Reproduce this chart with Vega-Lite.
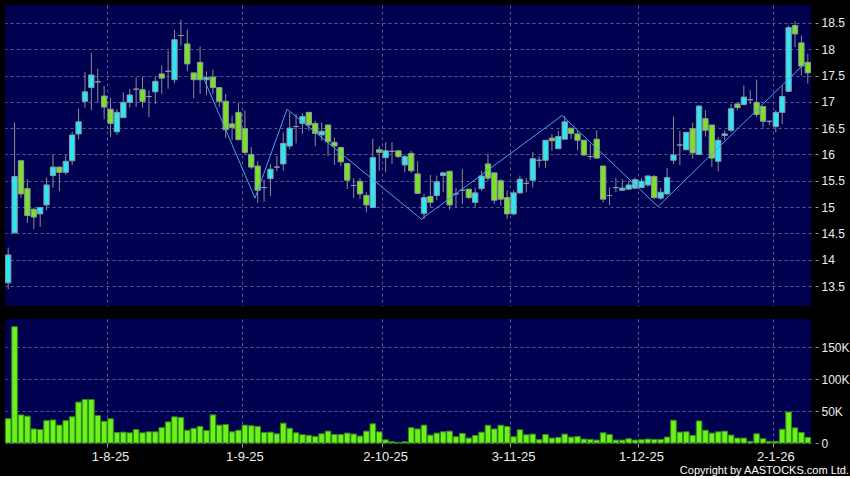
{
"$schema": "https://vega.github.io/schema/vega-lite/v6.json",
"background": "#000000",
"padding": {"left": 4, "top": 5, "right": 0, "bottom": 0},
"config": {
  "view": {"fill": "#000050", "stroke": null},
  "axis": {"labelFont": "Liberation Sans", "labelColor": "#eeeeee", "tickColor": "#9a9a9a", "gridColor": "#5a5a8c", "gridDash": [3, 3], "gridWidth": 1, "domain": false, "title": null, "labelOverlap": false}
},
"title": {"text": "Copyright by AASTOCKS.com Ltd.", "orient": "bottom", "anchor": "end", "fontSize": 11, "fontWeight": "normal", "color": "#ffffff", "font": "Liberation Sans", "offset": 2},
"datasets": {"p": [
{"d":"10-7-25","o":13.56,"h":14.23,"l":13.44,"c":14.09,"v":38000},
{"d":"11-7-25","o":14.51,"h":16.61,"l":14.50,"c":15.58,"v":182000},
{"d":"14-7-25","o":15.88,"h":15.90,"l":15.18,"c":15.25,"v":44000},
{"d":"15-7-25","o":15.35,"h":15.53,"l":14.70,"c":14.84,"v":42000},
{"d":"16-7-25","o":14.96,"h":14.97,"l":14.58,"c":14.81,"v":22000},
{"d":"17-7-25","o":14.87,"h":15.00,"l":14.62,"c":14.99,"v":21000},
{"d":"18-7-25","o":15.04,"h":15.56,"l":14.94,"c":15.42,"v":35000},
{"d":"21-7-25","o":15.60,"h":16.00,"l":15.37,"c":15.76,"v":36000},
{"d":"22-7-25","o":15.76,"h":15.77,"l":15.30,"c":15.66,"v":28000},
{"d":"23-7-25","o":15.66,"h":16.00,"l":15.61,"c":15.87,"v":35000},
{"d":"24-7-25","o":15.88,"h":16.43,"l":15.80,"c":16.37,"v":41000},
{"d":"25-7-25","o":16.39,"h":16.87,"l":16.29,"c":16.62,"v":64000},
{"d":"28-7-25","o":17.01,"h":17.57,"l":16.89,"c":17.19,"v":68000},
{"d":"29-7-25","o":17.27,"h":17.93,"l":16.84,"c":17.51,"v":68000},
{"d":"30-7-25","o":17.38,"h":17.63,"l":16.99,"c":17.38,"v":43000},
{"d":"31-7-25","o":17.11,"h":17.30,"l":16.67,"c":16.90,"v":34000},
{"d":"1-8-25","o":16.86,"h":17.08,"l":16.33,"c":16.59,"v":38000},
{"d":"4-8-25","o":16.43,"h":16.86,"l":16.37,"c":16.80,"v":16500},
{"d":"5-8-25","o":16.70,"h":17.18,"l":16.70,"c":16.99,"v":17000},
{"d":"6-8-25","o":16.99,"h":17.24,"l":16.89,"c":17.13,"v":16000},
{"d":"7-8-25","o":17.24,"h":17.46,"l":16.90,"c":17.24,"v":21000},
{"d":"8-8-25","o":17.23,"h":17.47,"l":16.89,"c":17.01,"v":16000},
{"d":"11-8-25","o":17.10,"h":17.22,"l":16.71,"c":17.10,"v":17500},
{"d":"12-8-25","o":17.19,"h":17.47,"l":16.96,"c":17.39,"v":17500},
{"d":"13-8-25","o":17.53,"h":17.69,"l":17.15,"c":17.45,"v":24000},
{"d":"14-8-25","o":17.58,"h":17.97,"l":17.25,"c":17.58,"v":33000},
{"d":"15-8-25","o":17.42,"h":18.37,"l":17.35,"c":18.18,"v":41000},
{"d":"18-8-25","o":18.26,"h":18.56,"l":18.07,"c":18.26,"v":40000},
{"d":"19-8-25","o":18.10,"h":18.37,"l":17.58,"c":17.72,"v":20000},
{"d":"20-8-25","o":17.55,"h":17.55,"l":17.07,"c":17.42,"v":23000},
{"d":"21-8-25","o":17.75,"h":18.05,"l":17.15,"c":17.42,"v":26000},
{"d":"22-8-25","o":17.42,"h":17.58,"l":17.13,"c":17.46,"v":19600,"z":17.44},
{"d":"25-8-25","o":17.47,"h":17.61,"l":17.15,"c":17.27,"v":44000},
{"d":"26-8-25","o":17.27,"h":17.27,"l":16.90,"c":17.01,"v":28000},
{"d":"27-8-25","o":17.01,"h":17.15,"l":16.31,"c":16.47,"v":29000},
{"d":"28-8-25","o":16.58,"h":16.74,"l":16.27,"c":16.51,"v":17500},
{"d":"29-8-25","o":16.80,"h":16.98,"l":16.27,"c":16.28,"v":20000},
{"d":"1-9-25","o":16.49,"h":16.84,"l":16.00,"c":16.04,"v":28000},
{"d":"2-9-25","o":16.00,"h":16.14,"l":15.72,"c":15.76,"v":27000},
{"d":"3-9-25","o":15.78,"h":15.87,"l":15.08,"c":15.32,"v":26000,"z":15.17},
{"d":"4-9-25","o":15.37,"h":15.52,"l":15.10,"c":15.37,"v":16500},
{"d":"5-9-25","o":15.54,"h":15.82,"l":15.21,"c":15.72,"v":17000},
{"d":"8-9-25","o":15.76,"h":15.97,"l":15.68,"c":15.76,"v":14400},
{"d":"9-9-25","o":15.82,"h":16.42,"l":15.69,"c":16.21,"v":31000},
{"d":"10-9-25","o":16.16,"h":16.80,"l":16.10,"c":16.50,"v":23000,"z":16.86},
{"d":"11-9-25","o":16.53,"h":16.77,"l":16.21,"c":16.53,"v":16000},
{"d":"12-9-25","o":16.59,"h":16.78,"l":16.39,"c":16.72,"v":13000},
{"d":"15-9-25","o":16.80,"h":16.80,"l":16.45,"c":16.56,"v":12000},
{"d":"16-9-25","o":16.59,"h":16.64,"l":16.16,"c":16.40,"v":10300},
{"d":"17-9-25","o":16.37,"h":16.61,"l":16.26,"c":16.44,"v":14400},
{"d":"18-9-25","o":16.56,"h":16.56,"l":15.97,"c":16.24,"v":18600},
{"d":"19-9-25","o":16.23,"h":16.32,"l":15.80,"c":16.16,"v":13400},
{"d":"22-9-25","o":16.13,"h":16.15,"l":15.78,"c":15.86,"v":13400},
{"d":"23-9-25","o":15.83,"h":15.83,"l":15.34,"c":15.51,"v":15500},
{"d":"24-9-25","o":15.41,"h":15.55,"l":15.17,"c":15.41,"v":14000},
{"d":"25-9-25","o":15.49,"h":15.55,"l":15.15,"c":15.25,"v":10800},
{"d":"26-9-25","o":15.22,"h":15.28,"l":14.90,"c":15.04,"v":18600},
{"d":"29-9-25","o":14.99,"h":16.30,"l":14.99,"c":15.94,"v":30000},
{"d":"30-9-25","o":16.09,"h":16.16,"l":15.69,"c":16.04,"v":17500},
{"d":"2-10-25","o":15.94,"h":16.23,"l":15.66,"c":16.07,"v":5000},
{"d":"3-10-25","o":16.06,"h":16.23,"l":15.82,"c":16.06,"v":2000},
{"d":"6-10-25","o":16.07,"h":16.07,"l":15.93,"c":15.96,"v":1000},
{"d":"8-10-25","o":15.80,"h":16.00,"l":15.66,"c":15.96,"v":2000},
{"d":"9-10-25","o":16.02,"h":16.07,"l":15.65,"c":15.69,"v":24000},
{"d":"10-10-25","o":15.63,"h":15.87,"l":15.26,"c":15.26,"v":22000},
{"d":"13-10-25","o":14.88,"h":15.25,"l":14.77,"c":15.18,"v":28000,"z":14.77},
{"d":"14-10-25","o":15.20,"h":15.61,"l":14.99,"c":15.09,"v":12400},
{"d":"15-10-25","o":15.22,"h":15.60,"l":15.13,"c":15.48,"v":15500},
{"d":"16-10-25","o":15.60,"h":15.67,"l":15.28,"c":15.65,"v":17500},
{"d":"17-10-25","o":15.68,"h":15.68,"l":14.95,"c":15.04,"v":18600},
{"d":"20-10-25","o":15.25,"h":15.37,"l":14.99,"c":15.25,"v":9800},
{"d":"21-10-25","o":15.32,"h":15.72,"l":15.06,"c":15.32,"v":15000},
{"d":"22-10-25","o":15.34,"h":15.34,"l":15.15,"c":15.18,"v":7700},
{"d":"23-10-25","o":15.09,"h":15.37,"l":14.99,"c":15.27,"v":11900},
{"d":"24-10-25","o":15.35,"h":15.69,"l":15.31,"c":15.59,"v":17000},
{"d":"27-10-25","o":15.82,"h":16.01,"l":15.50,"c":15.55,"v":27800},
{"d":"28-10-25","o":15.65,"h":15.65,"l":15.06,"c":15.13,"v":22000},
{"d":"30-10-25","o":15.50,"h":15.53,"l":15.03,"c":15.15,"v":27800},
{"d":"31-10-25","o":15.18,"h":15.32,"l":14.78,"c":14.87,"v":25800},
{"d":"3-11-25","o":14.87,"h":15.32,"l":14.85,"c":15.27,"v":9800},
{"d":"4-11-25","o":15.27,"h":15.60,"l":15.25,"c":15.53,"v":20600},
{"d":"5-11-25","o":15.45,"h":15.55,"l":15.28,"c":15.45,"v":12900},
{"d":"6-11-25","o":15.51,"h":16.05,"l":15.37,"c":15.92,"v":13900},
{"d":"7-11-25","o":15.89,"h":15.97,"l":15.75,"c":15.89,"v":5200},
{"d":"10-11-25","o":15.89,"h":16.27,"l":15.74,"c":16.27,"v":13400},
{"d":"11-11-25","o":16.31,"h":16.39,"l":16.07,"c":16.26,"v":7700},
{"d":"12-11-25","o":16.11,"h":16.45,"l":16.10,"c":16.34,"v":8800},
{"d":"13-11-25","o":16.29,"h":16.73,"l":16.29,"c":16.62,"v":13900,"z":16.74},
{"d":"14-11-25","o":16.50,"h":16.50,"l":16.29,"c":16.40,"v":9300},
{"d":"17-11-25","o":16.39,"h":16.46,"l":16.08,"c":16.27,"v":10300},
{"d":"18-11-25","o":16.27,"h":16.27,"l":15.97,"c":15.99,"v":6200},
{"d":"19-11-25","o":15.96,"h":16.20,"l":15.90,"c":15.96,"v":5700},
{"d":"20-11-25","o":16.29,"h":16.46,"l":15.93,"c":15.93,"v":4600},
{"d":"21-11-25","o":15.78,"h":15.78,"l":15.09,"c":15.15,"v":16000},
{"d":"24-11-25","o":15.22,"h":15.37,"l":15.04,"c":15.22,"v":13400},
{"d":"25-11-25","o":15.37,"h":15.56,"l":15.28,"c":15.37,"v":4600},
{"d":"26-11-25","o":15.32,"h":15.53,"l":15.31,"c":15.36,"v":4600},
{"d":"27-11-25","o":15.34,"h":15.50,"l":15.34,"c":15.42,"v":6700},
{"d":"28-11-25","o":15.36,"h":15.56,"l":15.34,"c":15.52,"v":4600},
{"d":"1-12-25","o":15.37,"h":15.55,"l":15.37,"c":15.49,"v":5200},
{"d":"2-12-25","o":15.42,"h":15.61,"l":15.39,"c":15.59,"v":6200},
{"d":"3-12-25","o":15.58,"h":15.61,"l":15.15,"c":15.18,"v":5700},
{"d":"4-12-25","o":15.17,"h":15.37,"l":15.14,"c":15.28,"v":5700,"z":15.01},
{"d":"5-12-25","o":15.25,"h":15.74,"l":15.22,"c":15.56,"v":9300},
{"d":"8-12-25","o":15.89,"h":16.72,"l":15.82,"c":15.99,"v":35600},
{"d":"9-12-25","o":16.18,"h":16.45,"l":15.80,"c":16.18,"v":17000},
{"d":"10-12-25","o":16.09,"h":16.42,"l":16.08,"c":16.42,"v":17500},
{"d":"11-12-25","o":16.49,"h":16.60,"l":15.92,"c":16.03,"v":11900},
{"d":"12-12-25","o":16.00,"h":16.93,"l":15.99,"c":16.92,"v":34500},
{"d":"15-12-25","o":16.68,"h":16.84,"l":16.34,"c":16.46,"v":20000},
{"d":"16-12-25","o":16.56,"h":16.56,"l":15.76,"c":15.93,"v":15500},
{"d":"17-12-25","o":15.87,"h":16.33,"l":15.68,"c":16.27,"v":17500},
{"d":"18-12-25","o":16.36,"h":16.46,"l":16.27,"c":16.39,"v":18600},
{"d":"19-12-25","o":16.46,"h":16.96,"l":16.42,"c":16.87,"v":12400},
{"d":"22-12-25","o":16.96,"h":16.96,"l":16.84,"c":16.89,"v":7700},
{"d":"23-12-25","o":16.95,"h":17.31,"l":16.93,"c":17.09,"v":7700},
{"d":"24-12-25","o":17.04,"h":17.22,"l":16.96,"c":17.04,"v":2600},
{"d":"29-12-25","o":16.99,"h":17.42,"l":16.71,"c":16.76,"v":14400},
{"d":"30-12-25","o":16.91,"h":16.91,"l":16.51,"c":16.63,"v":6700},
{"d":"31-12-25","o":16.63,"h":16.64,"l":16.55,"c":16.63,"v":2600},
{"d":"2-1-26","o":16.53,"h":16.84,"l":16.42,"c":16.80,"v":2600},
{"d":"5-1-26","o":16.80,"h":17.31,"l":16.58,"c":17.10,"v":21600},
{"d":"6-1-26","o":17.20,"h":18.45,"l":17.20,"c":18.41,"v":48500},
{"d":"7-1-26","o":18.45,"h":18.53,"l":18.04,"c":18.29,"v":23700},
{"d":"8-1-26","o":18.12,"h":18.26,"l":17.50,"c":17.68,"v":16500},
{"d":"9-1-26","o":17.75,"h":17.91,"l":17.35,"c":17.55,"v":8800,"z":17.74}
]},
"data": {"name": "p"},
"spacing": 13,
"vconcat": [
{
  "width": 806, "height": 301,
  "encoding": {
    "x": {"field": "d", "type": "ordinal", "sort": null,
      "scale": {"paddingInner": 0.17, "paddingOuter": 0.085},
      "axis": {"values": ["1-8-25","1-9-25","2-10-25","3-11-25","1-12-25","2-1-26"], "labels": false, "ticks": false, "grid": true, "bandPosition": 0}}
  },
  "layer": [
    {"mark": {"type": "rule", "color": "#8c8c8c", "strokeWidth": 1},
     "encoding": {
       "y": {"field": "l", "type": "quantitative", "scale": {"domain": [13.12, 18.84], "nice": false, "zero": false},
         "axis": {"orient": "right", "values": [13.5,14,14.5,15,15.5,16,16.5,17,17.5,18,18.5], "tickCount": 20, "labelExpr": "toString(datum.value)", "offset": 4, "tickSize": 3, "labelPadding": 3, "labelFontSize": 12, "grid": true}},
       "y2": {"field": "h"}}},
    {"mark": {"type": "bar", "stroke": "#8a9aa6", "strokeWidth": 1},
     "encoding": {
       "y": {"field": "o", "type": "quantitative"},
       "y2": {"field": "c"},
       "fill": {"condition": {"test": "datum.c > datum.o", "value": "#2ee6f2"}, "value": "#7ee022"}}},
    {"transform": [{"filter": "isValid(datum.z)"}],
     "mark": {"type": "line", "color": "#4aa2e0", "strokeWidth": 1},
     "encoding": {
       "x": {"field": "d", "type": "ordinal", "sort": null, "bandPosition": 0},
       "y": {"field": "z", "type": "quantitative"}}}
  ]
},
{
  "width": 806, "height": 124,
  "mark": {"type": "bar", "fill": "#6cf01e", "stroke": "#2f8a12", "strokeWidth": 1},
  "encoding": {
    "x": {"field": "d", "type": "ordinal", "sort": null,
      "scale": {"paddingInner": 0.12, "paddingOuter": 0.06},
      "axis": {"values": ["1-8-25","1-9-25","2-10-25","3-11-25","1-12-25","2-1-26"], "labelAngle": 0, "labelFontSize": 13, "tickSize": 4, "labelPadding": 3, "grid": true, "bandPosition": 0}},
    "y": {"field": "v", "type": "quantitative", "scale": {"domain": [0, 194000], "nice": false},
      "axis": {"orient": "right", "values": [0, 50000, 100000, 150000], "tickCount": 10, "labelExpr": "datum.value == 0 ? '0' : (datum.value / 1000) + 'K'", "offset": 4, "tickSize": 3, "labelPadding": 3, "labelFontSize": 12, "grid": true}}
  }
}
]
}
